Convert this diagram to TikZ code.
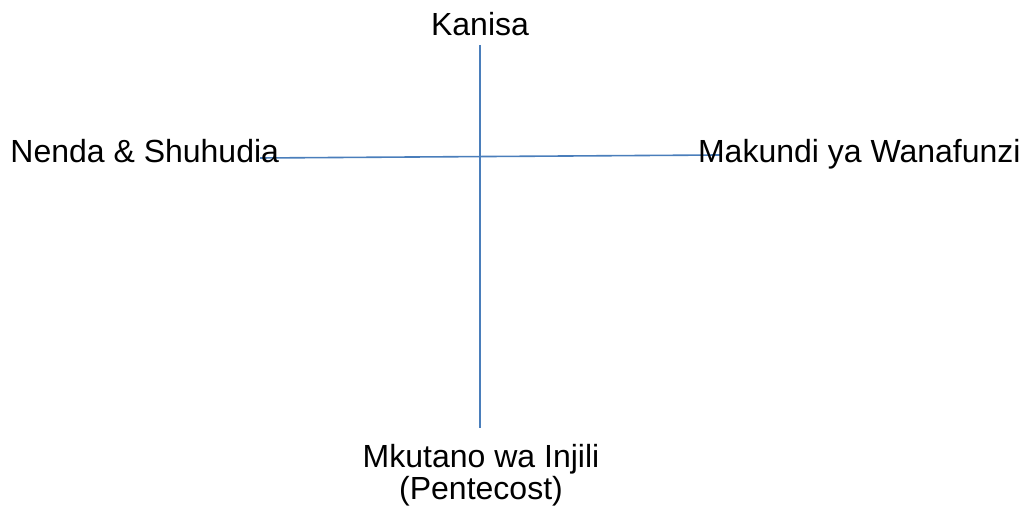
\documentclass[tikz,border=0pt]{standalone}
\usepackage{fontspec}
\setmainfont{Liberation Sans}
\definecolor{axisblue}{HTML}{4A7EBB}
\tikzset{
  label text/.style={inner sep=0pt, font=\fontsize{16}{17}\selectfont},
  axis line/.style={draw=axisblue, line width=0.8pt}
}
\begin{document}
\begin{tikzpicture}[x=0.5pt, y=-0.5pt, line join=round]
	\useasboundingbox (0,0) rectangle (1031,506);
	\coordinate (T) at (480,45);
	\coordinate (B) at (480,428);
	\coordinate (L) at (260,158);
	\coordinate (R) at (720,155);
	\draw[axis line] (T)--(B);
	\draw[axis line] (L)--(R);
	% Maandishi
	\node[label text, anchor=base] (kanisa) at (480,36) {Kanisa};
	\node[label text, anchor=base west] (nenda) at (10,163) {Nenda \& Shuhudia};
	\node[label text, anchor=base east] (makundi) at (1021,163) {Makundi ya Wanafunzi};
	\node[label text, anchor=base] (mkutano) at (481,467) {Mkutano wa Injili};
	\node[label text, anchor=base] (pentecost) at (481,499) {(Pentecost)};
\end{tikzpicture}
\end{document}
